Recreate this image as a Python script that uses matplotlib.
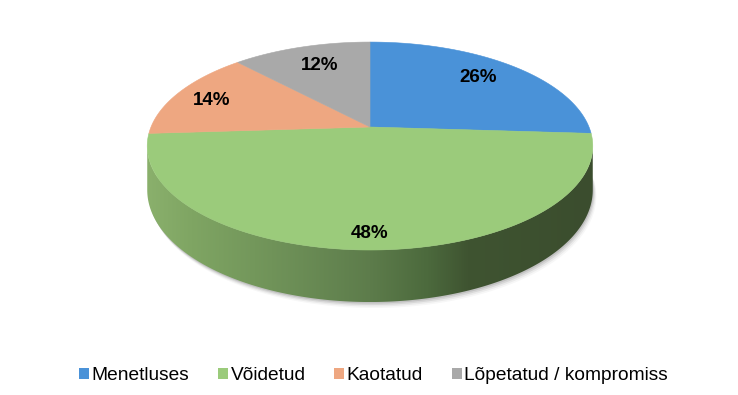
import numpy as np
import matplotlib
matplotlib.use("Agg")
import matplotlib.pyplot as plt
from matplotlib.patches import Polygon, Patch
from matplotlib.colors import LinearSegmentedColormap

# ---------------- data ----------------
categories = ["Menetluses", "Võidetud", "Kaotatud", "Lõpetatud / kompromiss"]
values = [26, 48, 14, 12]
labels = ["26%", "48%", "14%", "12%"]
colors = ["#4a92d8", "#9bcb7b", "#eea781", "#a9a9a9"]

# ---------------- layout (pixel space) ----------------
W, H = 738, 395
CX, CY = 370.0, 127.0      # apex of pie on the top face
A, B = 219.0, 100.5        # horizontal / vertical radii
K = 0.183                  # perspective factor
D = 42.5                   # depth of the pie

# label anchors in disk coordinates (u right, v toward viewer)
label_uv = [(0.541, -0.536), (0.0, 0.891), (-0.757, -0.272), (-0.257, -0.695)]

fig = plt.figure(figsize=(W / 100, H / 100), dpi=100)
ax = fig.add_axes([0, 0, 1, 1])
ax.set_xlim(0, W)
ax.set_ylim(H, 0)
ax.axis("off")


def proj(u, v, dz=0.0):
    w = 1 - K * v
    return CX + A * u / w, CY + B * v / w + dz / w


def ring(t0, t1, n=200, dz=0.0):
    th = np.radians(np.linspace(t0, t1, n))
    u, v = np.sin(th), -np.cos(th)
    x, y = proj(u, v, dz)
    return np.column_stack([x, y])


# silhouette angles (clockwise from top)
t_right = np.degrees(np.arccos(-K))
t_left = 360 - t_right

# ---------- soft shadow ----------
for off, al in [(6, 0.03), (4.5, 0.05), (3, 0.08), (1.5, 0.10)]:
    top = ring(t_right - 8, t_left + 8, dz=D)
    sh = top + np.array([off * 0.6, off])
    ax.add_patch(Polygon(sh, closed=True, facecolor="black", alpha=al,
                         edgecolor="none", zorder=1))

# ---------- side (green, gradient) ----------
top_edge = ring(t_right, t_left)
bot_edge = ring(t_left, t_right, dz=D)
side_poly = np.vstack([top_edge, bot_edge])
side_patch = Polygon(side_poly, closed=True, facecolor="none", edgecolor="none", zorder=2)
ax.add_patch(side_patch)
grad_cmap = LinearSegmentedColormap.from_list(
    "side",
    [(0.0, "#8ab06c"), (0.10, "#7fa563"), (0.35, "#6a8c55"), (0.50, "#5d7c4b"),
     (0.63, "#4c6a3d"), (0.72, "#3f5431"), (1.0, "#3b4d2e")])
xs = np.linspace(0, 1, 512)[None, :]
im = ax.imshow(xs, cmap=grad_cmap, aspect="auto",
               extent=[side_poly[:, 0].min(), side_poly[:, 0].max(),
                       side_poly[:, 1].max(), side_poly[:, 1].min()],
               zorder=2, interpolation="bilinear")
im.set_clip_path(side_patch)

# ---------- top face slices ----------
start = 0.0
total = float(sum(values))
for val, col in zip(values, colors):
    ang = 360.0 * val / total
    pts = ring(start, start + ang, n=max(int(ang * 2), 10))
    poly = np.vstack([[CX, CY], pts])
    ax.add_patch(Polygon(poly, closed=True, facecolor=col, edgecolor=col,
                         linewidth=0.4, zorder=3))
    start += ang

# ---------- labels ----------
for lab, (u, v) in zip(labels, label_uv):
    x, y = proj(u, v)
    ax.text(x, y, lab, ha="center", va="center", fontsize=13.5,
            fontweight="bold", family="Liberation Sans", color="black", zorder=5)

# ---------- legend ----------
handles = [Patch(facecolor=c, edgecolor="none") for c in colors]
fig.legend(handles, categories, loc="center", ncol=4, frameon=False,
           bbox_to_anchor=(373.5 / W, 1 - 376 / H),
           prop={"family": "Liberation Sans", "size": 13.8},
           handlelength=0.53, handleheight=0.53, handletextpad=0.12,
           columnspacing=1.5, borderpad=0)

fig.savefig("out.png", dpi=100)
